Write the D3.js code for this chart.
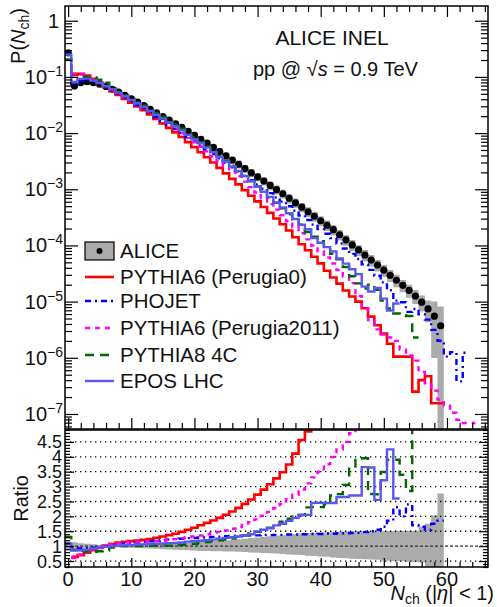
<!DOCTYPE html>
<html><head><meta charset="utf-8">
<script src="https://cdn.jsdelivr.net/npm/d3@7"></script>
<style>body{margin:0;background:#fff}svg{display:block}text{font-family:"Liberation Sans",Arial,Helvetica,sans-serif;fill:#111}</style>
</head><body><svg id="c" width="497" height="607"></svg>
<script>
// ---- data (index = N_ch bin, starting at 0) ----
const alice = [0.269,0.0692,0.0794,0.0822,0.0794,0.0741,0.0676,0.0603,0.0537,0.0468,
0.0407,0.0355,0.0309,0.0266,0.0229,0.0197,0.0170,0.0146,0.0126,0.0107,
0.00912,0.00776,0.00661,0.00556,0.00468,0.00394,0.00331,0.00279,0.00234,0.00197,
0.00166,0.00140,0.00117,0.000989,0.000832,0.000692,0.000575,0.000479,0.000398,0.000331,
0.000275,0.000229,0.000191,0.000155,0.000126,0.000102,8.32e-5,6.76e-5,5.50e-5,4.47e-5,
3.63e-5,2.95e-5,2.40e-5,1.95e-5,1.58e-5,1.26e-5,9.77e-6,7.41e-6,5.50e-6,3.72e-6];
const aliceSys = [0.08,0.08,0.08,0.08,0.08,0.08,0.08,0.08,0.08,0.08,
0.09,0.09,0.10,0.10,0.10,0.11,0.11,0.12,0.12,0.12,
0.13,0.13,0.14,0.14,0.15,0.15,0.15,0.16,0.16,0.17,
0.17,0.17,0.18,0.18,0.18,0.19,0.19,0.19,0.20,0.20,
0.20,0.21,0.21,0.21,0.22,0.22,0.22,0.23,0.23,0.23,
0.24,0.24,0.25,0.25,0.26,0.28,0.32,0.42,0.82,1.2];
const ratioBandHi = [1.15,1.13,1.10,1.08,1.06,1.05,1.04,1.04,1.04,1.05,
1.05,1.06,1.07,1.07,1.08,1.09,1.10,1.10,1.11,1.12,
1.13,1.14,1.15,1.17,1.18,1.19,1.21,1.23,1.25,1.27,
1.29,1.31,1.33,1.35,1.37,1.39,1.41,1.43,1.44,1.45,
1.46,1.47,1.48,1.48,1.49,1.49,1.50,1.50,1.50,1.51,
1.51,1.51,1.52,1.52,1.52,1.52,1.65,1.75,2.04,2.77];
const ratioBandLo = [0.86,0.88,0.90,0.92,0.94,0.95,0.96,0.96,0.96,0.95,
0.95,0.94,0.93,0.92,0.91,0.90,0.89,0.88,0.87,0.86,
0.85,0.84,0.84,0.83,0.83,0.82,0.82,0.81,0.80,0.79,
0.78,0.77,0.76,0.75,0.74,0.72,0.71,0.70,0.68,0.67,
0.65,0.64,0.62,0.60,0.59,0.58,0.57,0.56,0.55,0.54,
0.52,0.51,0.50,0.49,0.48,0.47,0.45,0.25,0.25,0.25];
const perugia0 = [null,0.108,0.1134,0.1054,0.0923,0.0788,0.0663,0.0558,0.0479,0.0407,
0.0348,0.0298,0.0255,0.0215,0.0179,0.0149,0.0124,0.0103,0.00851,0.00690,
0.00563,0.00456,0.00371,0.00299,0.00240,0.00192,0.00153,0.00122,0.000967,0.000767,
0.000608,0.000483,0.000380,0.000302,0.000239,0.000185,0.000140,0.000105,8.2e-5,6.3e-5,
4.79e-5,3.55e-5,2.69e-5,2.09e-5,1.58e-5,1.23e-5,1.0e-5,7.6e-6,5.4e-6,3.8e-6,
2.7e-6,1.78e-6,1.05e-6,1.05e-6,1.05e-6,2.5e-7,4.0e-7,4.7e-7,1.55e-7,1.55e-7];
const phojet = [0.249,0.0728,0.0863,0.0884,0.0836,0.0764,0.0676,0.0580,0.0502,0.0429,
0.0370,0.0317,0.0271,0.0229,0.0194,0.0164,0.0139,0.0118,0.0101,0.00843,
0.00713,0.00602,0.00508,0.00424,0.00355,0.00296,0.00247,0.00207,0.00173,0.00145,
0.00122,0.00102,0.000854,0.000717,0.000603,0.000498,0.000414,0.000342,0.000284,0.000235,
0.000195,0.000161,0.000135,0.000108,8.81e-5,7.08e-5,5.74e-5,4.60e-5,3.67e-5,2.88e-5,
2.20e-5,1.59e-5,1.04e-5,9.75e-6,6.58e-6,7.41e-6,5.92e-6,4.78e-6,3.14e-6,2.01e-6,
1.05e-6,1.26e-6,3.8e-7,1.23e-6];
const perugia2011 = [null,0.1153,0.1103,0.1002,0.0882,0.0764,0.0663,0.0569,0.0493,0.0418,
0.0360,0.0311,0.0269,0.0229,0.0196,0.0166,0.0140,0.0118,0.00992,0.00823,
0.00686,0.00571,0.00472,0.00386,0.00316,0.00258,0.00209,0.00170,0.00137,0.00109,
0.000874,0.000693,0.000544,0.000434,0.000344,0.000269,0.000211,0.000165,0.000128,0.000100,
7.86e-5,6.11e-5,4.78e-5,3.65e-5,2.80e-5,2.13e-5,1.26e-5,7.6e-6,4.7e-6,3.2e-6,
2.6e-6,2.3e-6,2.0e-6,1.4e-6,1.1e-6,8.9e-7,5.6e-7,3.5e-7,2.6e-7,1.8e-7,
1.4e-7,1.05e-7,7.9e-8,6.9e-8,6.9e-8];
const pythia8 = [0.205,0.0795,0.0945,0.1002,0.0980,0.0893,0.0786,0.0635,0.0537,0.0468,
0.0407,0.0355,0.0309,0.0263,0.0227,0.0193,0.0167,0.0142,0.0121,0.0101,
0.00844,0.00693,0.00580,0.00475,0.00390,0.00323,0.00263,0.00213,0.00172,0.00138,
0.00112,0.000903,0.000722,0.000575,0.000457,0.000360,0.000288,0.000234,0.000173,0.000143,
0.000119,9.54e-5,7.07e-5,5.64e-5,4.13e-5,2.83e-5,2.11e-5,1.71e-5,2.0e-5,1.63e-5,
1.04e-5,7.56e-6,6.15e-6,5.74e-6,5.54e-6,2.3e-6];
const epos = [0.249,0.0814,0.0923,0.0934,0.0863,0.0780,0.0690,0.0603,0.0526,0.0454,
0.0391,0.0338,0.0292,0.0249,0.0212,0.0181,0.0155,0.0132,0.0112,0.00930,
0.00779,0.00658,0.00551,0.00456,0.00374,0.00308,0.00255,0.00211,0.00173,0.00141,
0.00111,0.000903,0.000731,0.000582,0.000475,0.000374,0.000295,0.000234,0.000194,0.000135,
0.000112,9.35e-5,7.80e-5,5.85e-5,4.75e-5,3.78e-5,3.08e-5,1.85e-5,1.51e-5,1.75e-5,
1.13e-5,6.94e-6,9.23e-6];

const legendLabels = ["ALICE","PYTHIA6 (Perugia0)","PHOJET","PYTHIA6 (Perugia2011)","PYTHIA8 4C","EPOS LHC"];
const yDecades = [1,1e-1,1e-2,1e-3,1e-4,1e-5,1e-6,1e-7];
const xTickLabels = [0,10,20,30,40,50,60];
const ratioTickLabels = [0.5,1,1.5,2,2.5,3,3.5,4,4.5];

const models = [
  {name:legendLabels[1], data:perugia0, color:"#ff0000", dash:null, w:2.6},
  {name:legendLabels[2], data:phojet, color:"#0000ff", dash:"6,4,2,4", w:2.4},
  {name:legendLabels[3], data:perugia2011, color:"#ff00ff", dash:"5,5", w:2.4},
  {name:legendLabels[4], data:pythia8, color:"#006600", dash:"9,6", w:2.4},
  {name:legendLabels[5], data:epos, color:"#5858ee", dash:null, w:2.4}
];

// ---- layout ----
const svg = d3.select("#c");
const X0=65, X1=488, YT0=6, YT1=429, YR0=430, YR1=567;
const x = d3.scaleLinear().domain([-0.5,66.5]).range([X0,X1]);
const y = d3.scaleLog().domain([5.4e-8,1.83]).range([YT1,YT0]);
const yr = d3.scaleLinear().domain([0.3,4.9]).range([YR1,YR0]);
const TINY = 1e-14;

const defs = svg.append("defs");
defs.append("clipPath").attr("id","clipT").append("rect").attr("x",X0).attr("y",YT0).attr("width",X1-X0).attr("height",YT1-YT0);
defs.append("clipPath").attr("id","clipR").append("rect").attr("x",X0).attr("y",YR0).attr("width",X1-X0).attr("height",YR1-YR0);

const gT = svg.append("g").attr("clip-path","url(#clipT)");
const gR = svg.append("g").attr("clip-path","url(#clipR)");

function expand(arr, f){
  const pts=[];
  arr.forEach((v,i)=>{ if(v==null) return; const val=f(v,i); if(val==null) return; pts.push([i-0.5,val],[i+0.5,val]); });
  return pts;
}

// ALICE band (top)
const bandTopPts = [];
alice.forEach((v,i)=>{
  const hi=v*(1+aliceSys[i]), lo=Math.max(v*(1-aliceSys[i]),TINY);
  bandTopPts.push({x:i-0.5,hi,lo},{x:i+0.5,hi,lo});
});
gT.append("path").datum(bandTopPts)
  .attr("d", d3.area().x(d=>x(d.x)).y0(d=>y(d.lo)).y1(d=>y(d.hi)))
  .attr("fill","#ababab");

// ALICE points
gT.selectAll("circle.al").data(alice).enter().append("circle")
  .attr("cx",(d,i)=>x(i)).attr("cy",d=>y(d)).attr("r",3.6).attr("fill","#000");

// model histograms (top)
const lineTop = d3.line().x(d=>x(d[0])).y(d=>y(Math.max(d[1],TINY)));
models.forEach(m=>{
  gT.append("path").datum(expand(m.data, v=>v))
    .attr("d",lineTop).attr("fill","none").attr("stroke",m.color)
    .attr("stroke-width",m.w).attr("stroke-dasharray",m.dash).attr("stroke-linejoin","miter");
});

// ---- ratio panel (data / model) ----
const bandRPts=[];
ratioBandHi.forEach((h,i)=>{bandRPts.push({x:i-0.5,hi:h,lo:ratioBandLo[i]},{x:i+0.5,hi:h,lo:ratioBandLo[i]});});
gR.append("path").datum(bandRPts)
  .attr("d", d3.area().x(d=>x(d.x)).y0(d=>yr(d.lo)).y1(d=>yr(d.hi)))
  .attr("fill","#ababab");

gR.selectAll("line.grid").data(ratioTickLabels).enter().append("line")
  .attr("x1",X0).attr("x2",X1).attr("y1",d=>yr(d)).attr("y2",d=>yr(d))
  .attr("stroke",d=>d===1?"#333":"#000").attr("stroke-width",1.3)
  .attr("stroke-dasharray",d=>d===1?"3,2":"1.3,3.7");

const lineR = d3.line().x(d=>x(d[0])).y(d=>yr(d[1]));
models.forEach(m=>{
  const pts = expand(m.data, (v,i)=> i<alice.length ? (v>0 ? alice[i]/v : 1000) : null);
  gR.append("path").datum(pts)
    .attr("d",lineR).attr("fill","none").attr("stroke",m.color)
    .attr("stroke-width",m.w).attr("stroke-dasharray",m.dash);
});

// ---- frames & axes ----
function strip(g){ g.select(".domain").remove(); g.selectAll("text").remove(); g.selectAll("line").attr("stroke","#000").attr("stroke-width",1.2); }
const minorY = [];
for(let e=-8;e<=0;e++){ for(let k=2;k<=9;k++){ const v=k*Math.pow(10,e); if(v>5.4e-8 && v<1.83) minorY.push(v);} }
const xMaj = d3.range(0,67,10), xMin = d3.range(0,67,2).filter(v=>v%10!==0);
svg.append("g").attr("transform",`translate(${X0},0)`).call(d3.axisRight(y).tickValues(yDecades).tickSize(13)).call(strip);
svg.append("g").attr("transform",`translate(${X0},0)`).call(d3.axisRight(y).tickValues(minorY).tickSize(7)).call(strip);
svg.append("g").attr("transform",`translate(${X1},0)`).call(d3.axisLeft(y).tickValues(yDecades).tickSize(13)).call(strip);
svg.append("g").attr("transform",`translate(${X1},0)`).call(d3.axisLeft(y).tickValues(minorY).tickSize(7)).call(strip);
svg.append("g").attr("transform",`translate(0,${YT0})`).call(d3.axisBottom(x).tickValues(xMaj).tickSize(11)).call(strip);
svg.append("g").attr("transform",`translate(0,${YT0})`).call(d3.axisBottom(x).tickValues(xMin).tickSize(6)).call(strip);
svg.append("g").attr("transform",`translate(0,${YT1})`).call(d3.axisTop(x).tickValues(xMaj).tickSize(11)).call(strip);
svg.append("g").attr("transform",`translate(0,${YT1})`).call(d3.axisTop(x).tickValues(xMin).tickSize(6)).call(strip);
const rMin = d3.range(3,50).map(v=>v/10).filter(v=>Math.abs(v*2-Math.round(v*2))>1e-6);
svg.append("g").attr("transform",`translate(${X0},0)`).call(d3.axisRight(yr).tickValues(ratioTickLabels).tickSize(9)).call(strip);
svg.append("g").attr("transform",`translate(${X0},0)`).call(d3.axisRight(yr).tickValues(rMin).tickSize(5)).call(strip);
svg.append("g").attr("transform",`translate(${X1},0)`).call(d3.axisLeft(yr).tickValues(ratioTickLabels).tickSize(9)).call(strip);
svg.append("g").attr("transform",`translate(${X1},0)`).call(d3.axisLeft(yr).tickValues(rMin).tickSize(5)).call(strip);
svg.append("g").attr("transform",`translate(0,${YR1})`).call(d3.axisTop(x).tickValues(xMaj).tickSize(9)).call(strip);
svg.append("g").attr("transform",`translate(0,${YR1})`).call(d3.axisTop(x).tickValues(xMin).tickSize(5)).call(strip);

svg.append("rect").attr("x",X0).attr("y",YT0).attr("width",X1-X0).attr("height",YT1-YT0).attr("fill","none").attr("stroke","#000").attr("stroke-width",1.5);
svg.append("rect").attr("x",X0).attr("y",YR0).attr("width",X1-X0).attr("height",YR1-YR0).attr("fill","none").attr("stroke","#000").attr("stroke-width",1.5);

// tick labels
yDecades.forEach(v=>{
  const e = Math.round(Math.log10(v));
  const t = svg.append("text").attr("text-anchor","end").attr("font-size",20);
  if(e===0){ t.attr("x",59).attr("y",y(v)+7).text("1"); }
  else {
    t.attr("x",63).attr("y",y(v)+7);
    t.append("tspan").text("10");
    t.append("tspan").attr("font-size",14).attr("dy",-8).text("\u2212"+(-e));
  }
});
ratioTickLabels.forEach(v=>{
  svg.append("text").attr("text-anchor","end").attr("font-size",18).attr("x",62).attr("y",yr(v)+6.5).text(v);
});
xTickLabels.forEach(v=>{
  svg.append("text").attr("text-anchor","middle").attr("font-size",20).attr("x",x(v)).attr("y",586).text(v);
});

// axis titles
const yt = svg.append("text").attr("transform","translate(25,8) rotate(-90)").attr("text-anchor","end").attr("font-size",20);
yt.append("tspan").text("P(");
yt.append("tspan").attr("font-style","italic").text("N");
yt.append("tspan").attr("font-size",14).attr("dy",4).text("ch");
yt.append("tspan").attr("dy",-4).text(")");
svg.append("text").attr("transform","translate(28,475) rotate(-90)").attr("text-anchor","end").attr("font-size",20).text("Ratio");
const xt = svg.append("text").attr("x",494).attr("y",600).attr("text-anchor","end").attr("font-size",20);
xt.append("tspan").attr("font-style","italic").text("N");
xt.append("tspan").attr("font-size",14).attr("dy",4).text("ch");
xt.append("tspan").attr("dy",-4).text(" (|");
xt.append("tspan").attr("font-style","italic").text("\u03b7");
xt.append("tspan").text("| < 1)");

// header text
svg.append("text").attr("x",332).attr("y",45).attr("text-anchor","middle").attr("font-size",21).text("ALICE INEL");
const hd = svg.append("text").attr("x",253).attr("y",76).attr("font-size",20);
hd.append("tspan").text("pp @ \u221a");
hd.append("tspan").attr("font-style","italic").text("s");
hd.append("tspan").text(" = 0.9 TeV");

// legend
const LX0=85, LX1=114, legY=[251,277,301,328,355,381];
svg.append("rect").attr("x",LX0).attr("y",legY[0]-9).attr("width",LX1-LX0).attr("height",18).attr("fill","#ababab").attr("stroke","#000").attr("stroke-width",1.2);
svg.append("circle").attr("cx",(LX0+LX1)/2).attr("cy",legY[0]).attr("r",3).attr("fill","#000");
models.forEach((m,k)=>{
  svg.append("line").attr("x1",LX0).attr("x2",LX1).attr("y1",legY[k+1]).attr("y2",legY[k+1])
    .attr("stroke",m.color).attr("stroke-width",m.w).attr("stroke-dasharray",m.dash);
});
legendLabels.forEach((s,k)=>{
  svg.append("text").attr("x",120).attr("y",legY[k]+7).attr("font-size",20.5).text(s);
});
</script></body></html>
